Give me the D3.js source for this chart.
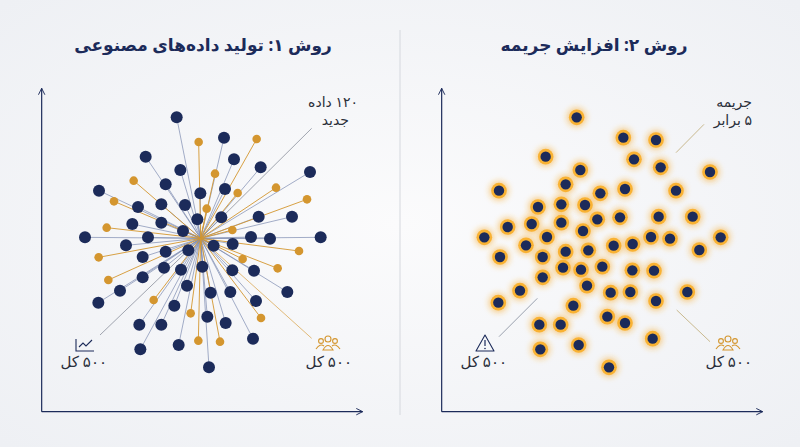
<!DOCTYPE html>
<html><head><meta charset="utf-8">
<script src="https://cdn.jsdelivr.net/npm/d3@7"></script>
<style>body{margin:0;background:#f4f5f8}svg{display:block}text{font-family:"Noto Sans","DejaVu Sans",sans-serif}</style>
</head><body><svg id="c" width="800" height="447"></svg>
<script>
const titles=["روش ۱: تولید داده‌های مصنوعی","روش ۲: افزایش جریمه"];
const center=[602,655];
const navyLeft=[[530,292],[672,353],[437,410],[702,418],[782,442],[541,450],[930,456],[497,493],[297,512],[601,520],[675,507],[414,561],[484,553],[555,555],[592,598],[664,592],[776,590],[876,590],[397,612],[484,608],[549,633],[255,652],[444,652],[753,651],[810,656],[962,652],[378,676],[641,677],[698,672],[497,695],[565,691],[428,711],[492,743],[543,749],[607,740],[697,751],[762,752],[428,772],[360,812],[561,797],[632,818],[691,816],[862,816],[768,843],[295,848],[523,857],[622,890],[418,914],[484,914],[677,909],[759,956],[421,988],[536,975],[627,1042]];
const goldLeft=[[596,366],[770,357],[645,461],[401,482],[713,519],[828,503],[342,544],[921,538],[620,566],[320,623],[697,630],[296,712],[897,693],[728,717],[833,745],[325,780],[461,840],[572,880],[783,894],[595,962],[660,965]];
const rightPts=[[530,292],[670,353],[768,360],[437,410],[702,418],[782,442],[541,450],[930,456],[497,493],[297,512],[601,520],[675,507],[828,512],[414,561],[484,553],[555,555],[592,598],[660,592],[776,590],[878,590],[323,621],[395,612],[484,608],[549,633],[253,652],[441,651],[753,651],[810,656],[962,652],[378,676],[641,677],[698,672],[898,690],[300,711],[497,695],[565,691],[428,711],[489,743],[543,749],[607,740],[697,751],[762,752],[428,772],[360,812],[561,797],[632,818],[691,816],[862,816],[768,843],[295,848],[520,857],[622,890],[418,914],[482,914],[675,909],[758,956],[421,988],[536,975],[627,1042]];
const NAVY="#1c2b5a",GOLD="#d4962f",ORANGE="#f7a51c";
const svg=d3.select("#c");
const defs=svg.append("defs");
const lg=defs.append("radialGradient").attr("id","bg").attr("cx","50%").attr("cy","50%").attr("r","70%");
lg.append("stop").attr("offset","0%").attr("stop-color","#fbfbfc");
lg.append("stop").attr("offset","100%").attr("stop-color","#eef0f4");
svg.append("rect").attr("width",800).attr("height",447).attr("fill","url(#bg)");
const f=defs.append("filter").attr("id","glow").attr("x","-100%").attr("y","-100%").attr("width","300%").attr("height","300%");
f.append("feGaussianBlur").attr("stdDeviation",3);
const mk=defs.append("marker").attr("id","arr").attr("viewBox","0 0 10 10").attr("refX",9).attr("refY",5).attr("markerWidth",8).attr("markerHeight",8).attr("orient","auto-start-reverse").attr("markerUnits","userSpaceOnUse");
mk.append("path").attr("d","M1,1 L9,5 L1,9").attr("fill","none").attr("stroke",NAVY).attr("stroke-width",1.2);
const sx=d3.scaleLinear().domain([0,1200]).range([0,400]);
const sy=d3.scaleLinear().domain([0,1200]).range([20,420]);
svg.append("line").attr("x1",400).attr("x2",400).attr("y1",30).attr("y2",415).attr("stroke","#d5d8de").attr("stroke-width",1);
[0,400].forEach((off,i)=>{
  const g=svg.append("g").attr("transform",`translate(${off},0)`);
  g.append("text").attr("x",i?194:203).attr("y",51).attr("text-anchor","middle").attr("direction","rtl").attr("font-size",17).attr("font-weight","bold").attr("fill",NAVY).text(titles[i]);
  g.append("path").attr("d",`M${sx(125)},${sy(1175)} L${sx(125)},${sy(205)}`).attr("stroke",NAVY).attr("stroke-width",1.2).attr("fill","none").attr("marker-end","url(#arr)");
  g.append("path").attr("d",`M${sx(125)},${sy(1175)} L${sx(1088)},${sy(1175)}`).attr("stroke",NAVY).attr("stroke-width",1.2).attr("fill","none").attr("marker-end","url(#arr)");
});
const L=svg.append("g");
L.append("line").attr("x1",sx(935)).attr("y1",sy(325)).attr("x2",sx(center[0])).attr("y2",sy(center[1])).attr("stroke","#8a8f9c").attr("stroke-width",0.8);
L.append("line").attr("x1",sx(300)).attr("y1",sy(945)).attr("x2",sx(center[0])).attr("y2",sy(center[1])).attr("stroke","#8a8f9c").attr("stroke-width",0.8);
L.append("line").attr("x1",sx(935)).attr("y1",sy(955)).attr("x2",sx(center[0])).attr("y2",sy(center[1])).attr("stroke",GOLD).attr("stroke-width",0.8).attr("opacity",0.8);
L.selectAll(".ln").data(navyLeft).join("line").attr("x1",d=>sx(d[0])).attr("y1",d=>sy(d[1])).attr("x2",sx(center[0])).attr("y2",sy(center[1])).attr("stroke","#7d8bb0").attr("stroke-width",0.7);
L.selectAll(".lg").data(goldLeft).join("line").attr("x1",d=>sx(d[0])).attr("y1",d=>sy(d[1])).attr("x2",sx(center[0])).attr("y2",sy(center[1])).attr("stroke",GOLD).attr("stroke-width",0.9);
L.selectAll(".cn").data(navyLeft).join("circle").attr("cx",d=>sx(d[0])).attr("cy",d=>sy(d[1])).attr("r",6).attr("fill",NAVY);
L.selectAll(".cg").data(goldLeft).join("circle").attr("cx",d=>sx(d[0])).attr("cy",d=>sy(d[1])).attr("r",4.3).attr("fill",GOLD);
const R=svg.append("g").attr("transform","translate(400,0)");
R.selectAll(".gl").data(rightPts).join("circle").attr("cx",d=>sx(d[0])).attr("cy",d=>sy(d[1])).attr("r",9.5).attr("fill",ORANGE).attr("opacity",0.55).attr("filter","url(#glow)");
R.selectAll(".rg").data(rightPts).join("circle").attr("cx",d=>sx(d[0])).attr("cy",d=>sy(d[1])).attr("r",7.8).attr("fill","#f9b233");
R.selectAll(".rn").data(rightPts).join("circle").attr("cx",d=>sx(d[0])).attr("cy",d=>sy(d[1])).attr("r",5.2).attr("fill",NAVY);
R.append("line").attr("x1",sx(912)).attr("y1",sy(313)).attr("x2",sx(828)).attr("y2",sy(398)).attr("stroke","#c9b98f").attr("stroke-width",1);
R.append("line").attr("x1",sx(412)).attr("y1",sy(835)).attr("x2",sx(297)).attr("y2",sy(950)).attr("stroke","#9aa0ad").attr("stroke-width",1);
R.append("line").attr("x1",sx(830)).attr("y1",sy(870)).attr("x2",sx(930)).attr("y2",sy(965)).attr("stroke","#c9b98f").attr("stroke-width",1);
function txt(g,x,y,s,sz){g.append("text").attr("x",x).attr("y",y).attr("text-anchor","start").attr("direction","rtl").attr("font-size",sz||14).attr("fill","#2a2f3a").text(s);}
txt(L,358,107,"۱۲۰ داده");txt(L,349,125,"جدید");
txt(L,107,367,"۵۰۰ کل",15);txt(L,352,367,"۵۰۰ کل",15);
txt(R,352,107,"جریمه");txt(R,352,125,"۵ برابر");
txt(R,107,367,"۵۰۰ کل",15);txt(R,352,367,"۵۰۰ کل",15);
function chartIcon(g,x,y){g.append("path").attr("d",`M${x},${y-12} L${x},${y} L${x+18},${y}`).attr("stroke",NAVY).attr("fill","none").attr("stroke-width",1.1);
 g.append("path").attr("d",`M${x+3},${y-4} L${x+7},${y-8} L${x+10},${y-5} L${x+16},${y-11}`).attr("stroke",NAVY).attr("fill","none").attr("stroke-width",1.1);}
function people(g,x,y){const c=GOLD;
 [[-7,-9,2.4],[0,-11,3],[7,-9,2.4]].forEach(p=>g.append("circle").attr("cx",x+p[0]).attr("cy",y+p[1]).attr("r",p[2]).attr("fill","none").attr("stroke",c).attr("stroke-width",1.1));
 g.append("path").attr("d",`M${x-5},${y} Q${x},${y-9} ${x+5},${y} Z`).attr("fill","none").attr("stroke",c).attr("stroke-width",1.1);
 g.append("path").attr("d",`M${x-12},${y-1} Q${x-8},${y-7} ${x-4},${y-4}`).attr("fill","none").attr("stroke",c).attr("stroke-width",1.1);
 g.append("path").attr("d",`M${x+12},${y-1} Q${x+8},${y-7} ${x+4},${y-4}`).attr("fill","none").attr("stroke",c).attr("stroke-width",1.1);}
function warn(g,x,y){g.append("path").attr("d",`M${x},${y-16} L${x+9},${y} L${x-9},${y} Z`).attr("fill","none").attr("stroke",NAVY).attr("stroke-width",1.1).attr("stroke-linejoin","round");
 g.append("line").attr("x1",x).attr("x2",x).attr("y1",y-11).attr("y2",y-5).attr("stroke",NAVY).attr("stroke-width",1.2);
 g.append("circle").attr("cx",x).attr("cy",y-2.5).attr("r",0.8).attr("fill",NAVY);}
chartIcon(L,76,351);people(L,328,350);warn(R,85,351);people(R,328,350);
</script></body></html>
